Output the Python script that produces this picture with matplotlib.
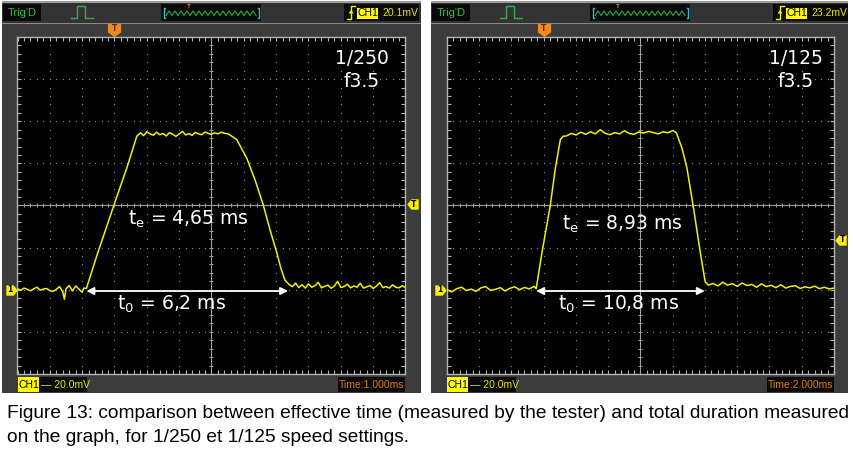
import numpy as np
import matplotlib
matplotlib.use('Agg')
from matplotlib import pyplot as plt
from matplotlib.patches import Rectangle, Polygon
from matplotlib.path import Path
from matplotlib.ticker import MultipleLocator
from matplotlib.transforms import offset_copy

# --- values read from the two scope captures (time in ms from screen centre, CH1 in mV) ---
left_t = [-6.0, -5.9, -5.8, -5.7, -5.6, -5.5, -5.4, -5.3, -5.2, -5.1, -5.0, -4.9, -4.8,
          -4.7, -4.6, -4.55, -4.5, -4.4, -4.3, -4.2, -4.1, -4.0, -3.95, -3.87,
          -3.54, -2.98, -2.62, -2.31,
          -2.2, -2.1, -2.0, -1.9, -1.8, -1.7, -1.6, -1.5, -1.4, -1.3, -1.2, -1.1, -1.0,
          -0.9, -0.8, -0.7, -0.6, -0.5, -0.4, -0.3, -0.2, -0.1, 0.0, 0.1, 0.2, 0.3, 0.4, 0.52,
          0.78, 1.09, 1.35, 1.60, 1.80, 2.01, 2.15, 2.27, 2.42,
          2.5, 2.6, 2.7, 2.8, 2.9, 3.0, 3.1, 3.2, 3.3, 3.4, 3.5, 3.6, 3.7, 3.8, 3.9, 4.0,
          4.1, 4.2, 4.3, 4.4, 4.5, 4.6, 4.7, 4.8, 4.9, 5.0, 5.1, 5.2, 5.3, 5.4, 5.5, 5.6,
          5.7, 5.8, 5.9, 6.0]
left_mv = [0.5, -0.3, 0.8, 0.2, -0.5, 0.4, 1.2, -0.2, 0.3, 0.6, -0.4, -0.8, 0.2,
           1.5, -1.0, -4.5, 0.5, 2.0, -0.6, 1.8, 0.3, -1.2, 0.8, 0.6,
           16.5, 41.9, 57.8, 72.9,
           74.5, 73.2, 75.0, 74.0, 73.4, 74.8, 73.6, 74.2, 73.0, 74.6, 73.8, 72.8, 74.0,
           75.2, 73.5, 74.1, 73.3, 74.7, 74.0, 73.6, 74.9, 74.2, 73.8, 74.5, 74.0, 74.8, 74.3, 74.0,
           71.3, 62.5, 52.0, 40.3, 29.0, 18.1, 10.0, 4.6, 2.2,
           1.5, 3.2, 1.0, 2.4, 0.8, 2.8, 1.2, 1.9, 3.5, 0.9, 1.6, 2.2, 0.7, 1.8, 4.0, 1.1,
           1.5, 2.6, 0.9, 1.8, 1.2, 3.1, 0.8, 1.4, 2.0, 0.6, 1.7, 3.4, 1.0, 1.5, 0.8, 2.3,
           1.2, 0.9, 1.9, 1.0]

right_t = [-12.0, -11.7, -11.4, -11.1, -10.8, -10.5, -10.2, -9.9, -9.6, -9.3, -9.0, -8.7,
           -8.4, -8.1, -7.8, -7.5, -7.2, -6.9, -6.6, -6.47,
           -6.10, -5.59, -5.28, -4.97, -4.80,
           -4.6, -4.3, -4.0, -3.7, -3.4, -3.1, -2.8, -2.5, -2.2, -1.9, -1.6, -1.3, -1.0,
           -0.7, -0.4, -0.1, 0.2, 0.5, 0.8, 1.1, 1.4, 1.7, 2.0, 2.22,
           2.57, 2.88, 3.29, 3.70, 4.01, 4.22,
           4.5, 4.8, 5.1, 5.4, 5.7, 6.0, 6.3, 6.6, 6.9, 7.2, 7.5, 7.8, 8.1, 8.4, 8.7, 9.0,
           9.3, 9.6, 9.9, 10.2, 10.5, 10.8, 11.1, 11.4, 11.7, 12.0]
right_mv = [0.0, -1.0, 0.5, 1.2, -0.4, 0.3, -0.8, 0.9, 1.5, -0.3, 0.2, 1.0,
            -0.6, 0.7, 1.4, 0.0, 1.1, 0.4, 1.6, 0.5,
            18.1, 40.3, 57.8, 71.3, 72.9,
            73.0, 74.2, 73.5, 74.8, 73.8, 75.0, 74.0, 76.0, 74.3, 73.6, 74.6, 74.0, 75.5,
            74.2, 73.8, 74.9, 74.4, 75.2, 74.6, 74.0, 75.0, 74.5, 75.6, 74.6,
            67.3, 57.8, 38.7, 18.1, 3.8, 2.2,
            3.0, 1.8, 3.6, 2.2, 2.9, 1.6, 3.2, 2.0, 2.5, 1.2, 2.8, 1.5, 2.1, 1.0, 2.4, 0.8,
            1.6, 1.9, 0.6, 1.4, 0.9, 1.7, 0.5, 1.2, 0.4, 0.8]

left_span = [-3.87, 2.37]      # t0 arrow
right_span = [-6.47, 3.99]
left_te = 'te = 4,65 ms'
left_t0 = 't0 = 6,2 ms'
right_te = 'te = 8,93 ms'
right_t0 = 't0 = 10,8 ms'
left_speed = ['1/250', 'f3.5']
right_speed = ['1/125', 'f3.5']
left_timebase = 'Time:1.000ms'
right_timebase = 'Time:2.000ms'
left_trig_level = '20.1mV'
right_trig_level = '23.2mV'
volt_div = '20.0mV'

caption = ['Figure 13: comparison between effective time (measured by the tester) and total duration measured',
           'on the graph, for 1/250 et 1/125 speed settings.']

W, H = 854, 455
YELLOW = '#f2f000'
GREEN = '#2fc23a'
ORANGE = '#f08a1c'
BORDER = '#b4b4b4'
UI_FONT = 'Liberation Sans'
LABEL_SIZE = 13.5

fig = plt.figure(figsize=(W / 100, H / 100), dpi=100)
bg = fig.add_axes([0, 0, 1, 1])
bg.set_xlim(0, W)
bg.set_ylim(H, 0)
bg.axis('off')


def rect(x0, y0, x1, y1, color, **kw):
    bg.add_patch(Rectangle((x0, y0), x1 - x0, y1 - y0, facecolor=color, edgecolor='none', **kw))


def sub(label):
    # 'te = ...' -> t with subscript
    return r'$\mathregular{t_%s}$' % label[1] + label[2:]


def draw_frame(px, pw, trig_level):
    # grey window of the scope software with its header
    rect(px, 1, px + pw, 393, '#3c3c3c')
    rect(px, 1, px + pw, 2.5, '#9c9c9c')
    rect(px, 2.5, px + pw, 22.5, '#333333')
    rect(px, 22.5, px + pw, 24, '#8a8a8a')
    # Trig'D box
    rect(px + 1, 4, px + 39, 21, '#0a0a0a')
    bg.text(px + 20, 12.8, "Trig'D", color=GREEN, fontsize=8, family=UI_FONT, ha='center', va='center')
    # pulse icon
    bg.plot(np.array([69, 75, 75, 83, 83, 91]) + px, [18, 18, 6, 6, 18, 18], color='#3fa84a', lw=1)
    # memory overview box with zigzag
    rect(px + 159, 4, px + 259, 21, '#0a0a0a')
    zx = np.arange(px + 164, px + 255, 3.0)
    zy = np.where(np.arange(len(zx)) % 2 == 0, 15.5, 11.0)
    bg.plot(zx, zy, color='#2aa84a', lw=0.8)
    bg.plot([px + 163, px + 162, px + 162, px + 163], [8, 8, 18, 18], color='#2ec0c8', lw=1)
    bg.plot([px + 256, px + 257, px + 257, px + 256], [8, 8, 18, 18], color='#2ec0c8', lw=1)
    bg.text(px + 187, 7, 'T', color=ORANGE, fontsize=4.5, family=UI_FONT, ha='center', va='center',
            fontweight='bold')
    # trigger box
    rect(px + 342, 4, px + 417, 21, '#0a0a0a')
    bg.plot(np.array([345, 349, 349, 353]) + px, [19, 19, 6, 6], color=YELLOW, lw=1)
    bg.add_patch(Polygon([[px + 346.5, 13.5], [px + 351.5, 13.5], [px + 349, 10]], closed=True,
                         facecolor=YELLOW, edgecolor='none'))
    rect(px + 355, 7.5, px + 376, 19, '#ffff00')
    bg.text(px + 365.5, 13.5, 'CH1', color='black', fontsize=7.5, family=UI_FONT, ha='center', va='center')
    bg.text(px + 380, 13.5, trig_level, color='#e6e600', fontsize=7.5, family=UI_FONT, ha='left', va='center')


def draw_footer(px, timebase):
    rect(px + 16, 377, px + 85, 392, '#0a0a0a')
    rect(px + 16, 377, px + 37, 392, '#ffff00')
    bg.text(px + 26.5, 384.8, 'CH1', color='black', fontsize=7.5, family=UI_FONT, ha='center', va='center')
    bg.text(px + 39, 384.8, '\u2014 ' + volt_div, color='#e6e600', fontsize=7.5, family=UI_FONT,
            ha='left', va='center')
    rect(px + 336, 377, px + 403, 392, '#0a0a0a')
    bg.text(px + 369.5, 384.8, timebase, color='#e07a10', fontsize=7.5, family=UI_FONT,
            ha='center', va='center')


def marker_path(verts):
    return Path(verts + [verts[0]], closed=True)


down_T = marker_path([(-0.5, 0.5), (0.5, 0.5), (0.5, -0.15), (0.0, -0.5), (-0.5, -0.15)])
right_T = marker_path([(-0.5, 0.5), (0.2, 0.5), (0.6, 0.0), (0.2, -0.5), (-0.5, -0.5)])
left_T = marker_path([(0.5, 0.5), (-0.2, 0.5), (-0.6, 0.0), (-0.2, -0.5), (0.5, -0.5)])


def draw_screen(box, ms_div, t, mv, span, te, t0, te_pos, t0_pos, speed, speed_x,
                trig_t, trig_mv):
    x0, y0, x1, y1 = box
    ax = fig.add_axes([x0 / W, 1 - y1 / H, (x1 - x0) / W, (y1 - y0) / H])
    mv_div = 20.0
    offset_div = -2
    xlim = (-6 * ms_div, 6 * ms_div)
    ylim = ((-4 - offset_div) * mv_div, (4 - offset_div) * mv_div)
    ax.set_xlim(xlim)
    ax.set_ylim(ylim)
    ax.set_facecolor('black')
    for s in ax.spines.values():
        s.set_color(BORDER)
        s.set_linewidth(1.0)
    ax.xaxis.set_major_locator(MultipleLocator(ms_div))
    ax.xaxis.set_minor_locator(MultipleLocator(ms_div / 5))
    ax.yaxis.set_major_locator(MultipleLocator(mv_div))
    ax.yaxis.set_minor_locator(MultipleLocator(mv_div / 5))
    ax.tick_params(which='both', direction='in', length=3, width=0.8, color=BORDER,
                   top=True, right=True, labelbottom=False, labelleft=False)

    # dotted graticule
    xs_major = xlim[0] + ms_div * np.arange(1, 12)
    ys_major = ylim[0] + mv_div * np.arange(1, 8)
    xs_minor = xlim[0] + ms_div / 5 * np.arange(1, 60)
    ys_minor = ylim[0] + mv_div / 5 * np.arange(1, 40)
    cx = (xlim[0] + xlim[1]) / 2
    cy = (ylim[0] + ylim[1]) / 2
    gx, gy = np.meshgrid(xs_major[xs_major != cx], ys_minor)
    ax.plot(gx.ravel(), gy.ravel(), ls='none', marker='s', ms=0.8, mew=0, color='#8a8a8a')
    gx, gy = np.meshgrid(xs_minor, ys_major[ys_major != cy])
    ax.plot(gx.ravel(), gy.ravel(), ls='none', marker='s', ms=0.8, mew=0, color='#8a8a8a')
    # centre cross with small ticks
    ax.axhline(cy, color='#a0a0a0', lw=0.8)
    ax.axvline(cx, color='#a0a0a0', lw=0.8)
    ax.plot(xs_minor, np.full(len(xs_minor), cy), ls='none', marker='|', ms=3.5, mew=0.7, color='#a0a0a0')
    ax.plot(np.full(len(ys_minor), cx), ys_minor, ls='none', marker='_', ms=3.5, mew=0.7, color='#a0a0a0')

    # trace
    ax.plot(t, mv, color=YELLOW, lw=1.1, zorder=5)

    # t0 arrow and labels
    ax.annotate('', xy=(span[1], -0.6), xytext=(span[0], -0.6),
                arrowprops=dict(arrowstyle='<|-|>', color='white', lw=1.3, mutation_scale=11,
                                shrinkA=0, shrinkB=0), zorder=6)
    ax.text(te_pos[0], te_pos[1], sub(te), color='white', fontsize=LABEL_SIZE, ha='center', va='center',
            zorder=6)
    ax.text(t0_pos[0], t0_pos[1], sub(t0), color='white', fontsize=LABEL_SIZE, ha='center', va='center',
            zorder=6)
    ax.text(speed_x, 0.936, speed[0], color='white', fontsize=LABEL_SIZE, ha='center', va='center',
            transform=ax.transAxes)
    ax.text(speed_x, 0.869, speed[1], color='white', fontsize=LABEL_SIZE, ha='center', va='center',
            transform=ax.transAxes)

    # channel / trigger markers around the screen
    tr = offset_copy(ax.get_xaxis_transform(), fig=fig, y=7, units='dots')
    ax.plot([trig_t], [1.0], transform=tr, marker=down_T, ms=9.5, color=ORANGE, mew=0, clip_on=False)
    ax.text(trig_t, 1.0, 'T', transform=offset_copy(ax.get_xaxis_transform(), fig=fig, y=8, units='dots'),
            fontsize=5.5, fontweight='bold', color='#5a2a00', ha='center', va='center', clip_on=False)
    tr = offset_copy(ax.get_yaxis_transform(), fig=fig, x=-6.5, units='dots')
    ax.plot([0.0], [0.0], transform=tr, marker=right_T, ms=9, color='#ffee00', mew=0, clip_on=False)
    ax.text(0.0, 0.0, '1', transform=offset_copy(ax.get_yaxis_transform(), fig=fig, x=-7.5, units='dots'),
            fontsize=5.5, fontweight='bold', color='black', ha='center', va='center', clip_on=False)
    tr = offset_copy(ax.get_yaxis_transform(), fig=fig, x=7.5, units='dots')
    ax.plot([1.0], [trig_mv], transform=tr, marker=left_T, ms=9, color='#ffee00', mew=0, clip_on=False)
    ax.text(1.0, trig_mv, 'T', transform=offset_copy(ax.get_yaxis_transform(), fig=fig, x=8.5, units='dots'),
            fontsize=5.5, fontweight='bold', color='black', ha='center', va='center', clip_on=False)
    return ax


draw_frame(2, 419, left_trig_level)
draw_footer(2, left_timebase)
draw_frame(431, 417, right_trig_level)
draw_footer(431, right_timebase)

draw_screen((17.5, 37, 405.5, 374), 1.0, left_t, left_mv, left_span, left_te, left_t0,
            (-0.73, 33.3), (-1.25, -6.7), left_speed, 0.887, -3.0, 40.5)
draw_screen((447, 37, 834, 374), 2.0, right_t, right_mv, right_span, right_te, right_t0,
            (-1.15, 31.0), (-1.39, -7.1), right_speed, 0.902, -6.0, 23.8)

fig.text(7 / W, 1 - 413 / H, caption[0], fontsize=13.8, family='Liberation Sans', va='center', ha='left')
fig.text(7 / W, 1 - 437 / H, caption[1], fontsize=13.8, family='Liberation Sans', va='center', ha='left')

fig.savefig('out.png', dpi=100, facecolor='white')
